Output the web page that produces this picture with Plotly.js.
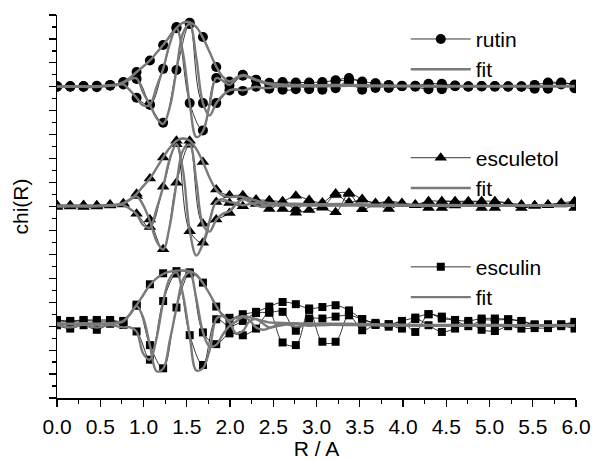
<!DOCTYPE html>
<html><head><meta charset="utf-8">
<script src="https://cdn.plot.ly/plotly-3.0.1.min.js"></script>
<style>body{margin:0;background:#fff}#c{width:593px;height:460px}</style>
</head><body><div id="c"></div>
<script>
// marker grid (data points shown with symbols)
const R = [0.000,0.153,0.307,0.460,0.614,0.767,0.920,1.074,1.227,1.381,1.534,1.687,1.841,1.994,2.148,2.301,2.454,2.608,2.761,2.915,3.068,3.221,3.375,3.528,3.682,3.835,3.988,4.142,4.295,4.449,4.602,4.755,4.909,5.062,5.216,5.369,5.522,5.676,5.829,5.983];
// fit grid
const Rfit = [0.000,0.153,0.307,0.460,0.614,0.690,0.767,0.844,0.920,0.997,1.074,1.151,1.227,1.304,1.381,1.457,1.534,1.611,1.687,1.764,1.841,1.917,1.994,2.071,2.148,2.224,2.301,2.378,2.454,2.608,2.761,2.915,3.068,3.375,3.682,3.988,4.500,5.000,5.500,5.983];

// ---- rutin data ----
const rutinMag = [0.03,0.03,0.03,0.04,0.08,0.2,0.62,1.1,1.75,2.5,2.68,2.08,0.83,0.22,0.5,0.3,0.17,0.2,0.18,0.18,0.2,0.27,0.37,0.22,0.15,0.08,0.04,0.04,0.13,0.13,0.05,0.02,0.03,0.03,0.02,0.02,0.08,0.18,0.18,0.1];
const rutinIm  = [0.0,0.0,-0.01,-0.02,0.05,0.1,-0.46,-0.75,0.75,2.45,-0.68,-1.82,0.37,0.05,0.46,0.28,0.1,-0.12,-0.1,0.15,-0.12,0.25,0.2,-0.12,0.14,-0.05,0.02,0.0,-0.1,0.1,0.02,0.01,0.01,0.0,0.01,0.0,-0.08,0.15,0.1,-0.06];
const rutinRe  = [0.0,0.01,0.02,0.02,0.06,0.17,0.33,-0.75,-1.5,0.7,2.62,-0.68,-0.68,-0.15,-0.17,0.0,-0.08,0.15,0.12,-0.1,0.15,-0.06,0.3,0.18,-0.05,0.06,0.03,0.03,0.08,-0.1,0.04,0.0,0.02,0.02,0.0,0.01,0.05,-0.08,0.15,0.08];
const rutinFitMag = [0.02,0.02,0.03,0.03,0.07,0.1,0.2,0.38,0.62,0.85,1.1,1.42,1.75,2.1,2.45,2.68,2.7,2.5,2.05,1.45,0.85,0.42,0.22,0.38,0.5,0.42,0.3,0.22,0.15,0.1,0.08,0.07,0.07,0.08,0.06,0.05,0.04,0.04,0.04,0.04];
const rutinFitIm  = [0.0,0.01,0.0,-0.01,0.04,0.07,0.1,-0.15,-0.46,-0.78,-0.75,0.0,0.75,1.8,2.45,1.4,-0.68,-2.1,-1.85,-0.75,0.37,0.25,0.08,0.32,0.46,0.38,0.28,0.18,0.1,0.02,0.04,0.03,0.02,0.04,0.03,0.02,0.02,0.02,0.02,0.02];
const rutinFitRe  = [0.01,0.01,0.02,0.02,0.05,0.07,0.17,0.32,0.35,-0.25,-0.75,-1.3,-1.55,-0.85,0.7,2.25,2.62,1.2,-0.68,-1.2,-0.68,-0.35,-0.15,-0.1,-0.15,-0.08,0.0,-0.05,-0.05,0.05,0.02,0.03,0.04,0.04,0.03,0.03,0.02,0.02,0.02,0.02];

// ---- esculetol data ----
const esculetolMag = [0.06,0.05,0.06,0.05,0.08,0.14,0.53,1.17,2.05,2.75,2.75,1.86,0.71,0.47,0.47,0.29,0.26,0.22,0.45,0.27,0.17,0.54,0.57,0.31,0.15,0.22,0.15,0.08,0.22,0.22,0.22,0.22,0.22,0.22,0.15,0.08,0.05,0.08,0.15,0.22];
const esculetolIm  = [-0.02,0.0,-0.02,0.0,0.04,0.08,-0.3,-0.86,0.82,2.6,-1.03,-1.51,0.19,0.15,0.01,0.22,-0.1,0.18,-0.1,0.22,0.0,0.48,0.18,0.28,0.12,0.18,0.1,0.05,0.2,-0.06,0.04,0.15,0.2,-0.06,0.1,-0.06,0.03,0.05,0.12,-0.06];
const esculetolRe  = [0.03,0.02,0.04,0.03,0.06,0.1,0.44,-0.54,-1.79,0.99,2.58,-0.72,-0.54,-0.27,0.4,0.1,0.22,-0.1,-0.26,-0.15,-0.05,-0.24,0.52,-0.11,0.08,-0.1,0.1,0.06,-0.06,0.2,0.2,0.15,-0.06,0.2,0.1,0.05,0.03,0.06,0.08,0.2];
const esculetolFitMag = [0.03,0.03,0.03,0.03,0.06,0.08,0.14,0.3,0.53,0.85,1.17,1.6,2.05,2.45,2.75,2.85,2.75,2.4,1.86,1.2,0.7,0.45,0.4,0.42,0.4,0.32,0.25,0.18,0.15,0.12,0.12,0.1,0.1,0.1,0.08,0.07,0.06,0.05,0.05,0.05];
const esculetolFitIm  = [0.0,0.01,0.0,0.01,0.03,0.05,0.06,-0.1,-0.32,-0.78,-0.88,-0.1,0.82,2.0,2.6,1.5,-1.0,-2.05,-1.55,-0.6,0.2,0.3,0.18,0.15,0.05,0.1,0.15,0.1,0.05,0.05,0.06,0.05,0.04,0.05,0.04,0.04,0.03,0.03,0.03,0.03];
const esculetolFitRe  = [0.02,0.02,0.02,0.02,0.05,0.07,0.12,0.28,0.42,0.05,-0.6,-1.45,-1.8,-0.8,0.95,2.35,2.58,1.05,-0.75,-1.05,-0.55,-0.3,-0.2,0.1,0.3,0.2,0.05,-0.02,0.05,0.08,0.05,0.05,0.06,0.05,0.05,0.04,0.04,0.03,0.03,0.03];

// ---- esculin data ----
const esculinMag = [0.26,0.22,0.26,0.26,0.26,0.22,0.9,1.75,2.21,2.3,2.25,1.82,0.82,0.35,0.5,0.6,0.82,1.01,0.92,0.74,0.8,0.875,0.66,0.3,0.14,0.08,0.22,0.36,0.5,0.4,0.26,0.22,0.32,0.32,0.29,0.22,0.08,0.08,0.08,0.18];
const esculinIm  = [0.04,-0.1,0.04,-0.15,0.1,0.05,-0.22,-1.4,1.05,2.2,-0.375,-1.62,0.29,0.0,0.22,0.55,0.57,0.6,-0.19,0.32,0.32,0.4,0.46,0.29,0.1,0.08,-0.1,0.3,0.04,-0.24,-0.1,0.15,-0.15,-0.2,0.0,-0.1,-0.08,-0.08,0.0,-0.1];
const esculinRe  = [0.24,0.18,0.24,0.2,0.22,0.2,0.85,-0.79,-1.76,0.78,2.2,-0.26,-0.75,-0.3,-0.38,-0.1,0.57,-0.68,-0.79,0.68,-0.65,-0.65,0.46,-0.17,0.05,-0.02,0.2,-0.24,0.5,0.32,0.24,0.0,0.25,0.25,0.28,0.2,0.05,0.06,0.06,0.15];
const esculinFitMag = [0.12,0.1,0.12,0.1,0.12,0.15,0.22,0.5,0.88,1.3,1.72,2.0,2.18,2.28,2.32,2.33,2.3,2.15,1.8,1.35,0.85,0.45,0.25,0.35,0.42,0.38,0.3,0.22,0.16,0.14,0.12,0.1,0.1,0.1,0.08,0.06,0.05,0.05,0.04,0.04];
const esculinFitIm  = [0.05,-0.05,0.06,-0.06,0.05,0.0,-0.05,-0.05,-0.22,-1.15,-1.4,-0.5,1.0,2.0,2.25,1.3,-0.4,-1.85,-1.75,-1.0,0.3,0.42,0.15,-0.3,-0.2,0.2,0.3,0.12,-0.05,0.05,0.1,0.02,0.05,0.05,0.04,0.03,0.02,0.02,0.02,0.02];
const esculinFitRe  = [0.1,0.08,0.1,0.08,0.1,0.12,0.2,0.5,0.85,0.35,-0.8,-1.88,-1.78,-0.6,0.75,1.95,2.25,1.15,-0.25,-0.85,-0.78,-0.35,0.0,0.2,0.38,0.25,-0.05,-0.15,-0.08,0.12,-0.02,0.08,0.05,0.08,0.05,0.03,0.03,0.03,0.03,0.02];

const xTickVals = [0,0.5,1,1.5,2,2.5,3,3.5,4,4.5,5,5.5,6];
const xTickText = ['0.0','0.5','1.0','1.5','2.0','2.5','3.0','3.5','4.0','4.5','5.0','5.5','6.0'];

const samples = [
  {name:'rutin', symbol:'circle', size:10, offset:10, legend:'legend',
   data:[rutinMag,rutinIm,rutinRe], fit:[rutinFitMag,rutinFitIm,rutinFitRe]},
  {name:'esculetol', symbol:'triangle-up', size:11, offset:5, legend:'legend2',
   data:[esculetolMag,esculetolIm,esculetolRe], fit:[esculetolFitMag,esculetolFitIm,esculetolFitRe]},
  {name:'esculin', symbol:'square', size:8, offset:0, legend:'legend3',
   data:[esculinMag,esculinIm,esculinRe], fit:[esculinFitMag,esculinFitIm,esculinFitRe]}
];

const traces = [];
samples.forEach(s => {
  s.data.forEach((arr, i) => {
    traces.push({x:R, y:arr.map(v => v + s.offset), type:'scatter', mode:'lines+markers',
      name:s.name, legend:s.legend, showlegend:i===0,
      line:{color:'#000', width:0.8, shape:'spline', smoothing:1},
      marker:{symbol:s.symbol, size:s.size, color:'#000'}});
  });
  s.fit.forEach((arr, i) => {
    traces.push({x:Rfit, y:arr.map(v => v + s.offset), type:'scatter', mode:'lines',
      name:'fit', legend:s.legend, showlegend:i===0,
      line:{color:'#7a7a7a', width:2.4, shape:'spline', smoothing:1}});
  });
});

const font = {family:'Liberation Sans, Arial, sans-serif', color:'#000'};
const legBase = {bgcolor:'rgba(0,0,0,0)', borderwidth:0, font:{...font, size:21},
  xanchor:'left', yanchor:'top', tracegroupgap:0, itemwidth:60};

const layout = {
  width:593, height:460,
  margin:{l:57, r:17, t:15, b:62},
  paper_bgcolor:'#fff', plot_bgcolor:'#fff',
  font:font,
  showlegend:true,
  xaxis:{range:[0,6], tickvals:xTickVals, ticktext:xTickText, ticks:'outside', ticklen:7, tickwidth:1.2,
    tickcolor:'#000', showline:true, linecolor:'#000', linewidth:1.5, showgrid:false, zeroline:false,
    tickfont:{...font, size:21}, automargin:false, ticklabelstandoff:2,
    minor:{dtick:0.25, tick0:0, ticks:'outside', ticklen:4, tickcolor:'#000', tickwidth:1.2},
    title:{text:'R / A', font:{...font, size:21}, standoff:4}},
  xaxis2:{range:[0,6], overlaying:'x', side:'top', dtick:0.5, tick0:0, ticks:'inside', ticklen:7, tickwidth:1.2,
    tickcolor:'#000', showline:true, linecolor:'#000', linewidth:1.5, showgrid:false, zeroline:false,
    showticklabels:false,
    minor:{dtick:0.25, tick0:0, ticks:'inside', ticklen:4, tickcolor:'#000', tickwidth:1.2}},
  yaxis:{range:[-3,13], dtick:1, tick0:0, ticks:'outside', ticklen:7, tickwidth:1.2, tickcolor:'#000',
    showline:true, linecolor:'#000', linewidth:1.5, showgrid:false, zeroline:false, showticklabels:false,
    automargin:false,
    minor:{dtick:0.5, ticks:'outside', ticklen:4, tickcolor:'#000', tickwidth:1.2},
    title:{text:'chi(R)', font:{...font, size:21}, standoff:14}},
  yaxis2:{range:[-3,13], overlaying:'y', side:'right', dtick:1, tick0:0, ticks:'inside', ticklen:7, tickwidth:1.2,
    tickcolor:'#000', showline:true, linecolor:'#000', linewidth:1.5, showgrid:false, zeroline:false,
    showticklabels:false,
    minor:{dtick:0.5, ticks:'inside', ticklen:4, tickcolor:'#000', tickwidth:1.2}},
  legend:{...legBase, x:0.672, y:0.99},
  legend2:{...legBase, x:0.672, y:0.68},
  legend3:{...legBase, x:0.672, y:0.395}
};

Plotly.newPlot('c', traces, layout, {staticPlot:true, displayModeBar:false});
</script></body></html>
